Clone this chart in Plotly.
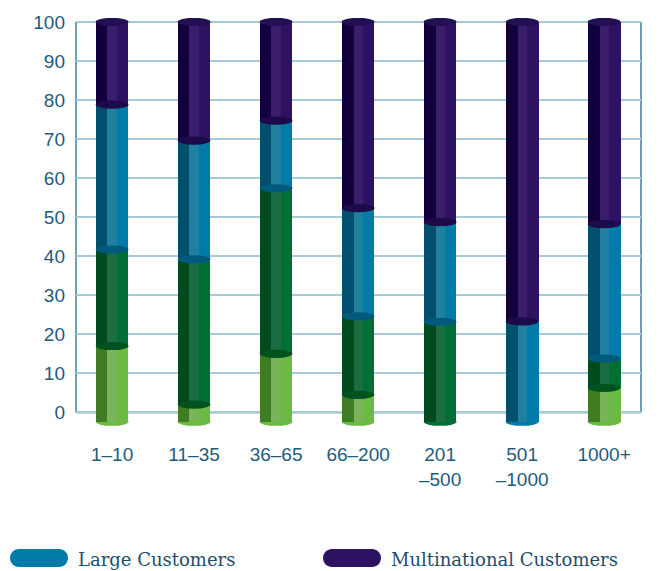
import plotly.graph_objects as go

categories = ["1–10", "11–35", "36–65", "66–200", "201<br>–500", "501<br>–1000", "1000+"]
series_names = ["Small Customers", "Medium Customers", "Large Customers", "Multinational Customers"]
small = [17.0, 2.0, 15.0, 4.5, 0.0, 0.0, 6.3]
medium = [24.7, 37.2, 42.4, 20.1, 23.2, 0.0, 7.5]
large = [37.1, 30.4, 17.3, 27.7, 25.5, 23.3, 34.4]
multinational = [21.2, 30.4, 25.3, 47.7, 51.3, 76.7, 51.8]
y_ticks = [0, 10, 20, 30, 40, 50, 60, 70, 80, 90, 100]
major_grid = [0, 20, 40, 60, 80, 100]

series_values = [small, medium, large, multinational]
base_colors = ["#6cb944", "#006f35", "#007aa6", "#2e1262"]
dark_colors = ["#3f7d24", "#004b1e", "#004f6e", "#12003e"]
high_colors = ["#79b459", "#1c6c43", "#217f9f", "#3b1e6b"]
cap_colors = ["#4f8f30", "#00521f", "#005a7c", "#1d0a4a"]

W = 0.40
FOOT = 2.4      # depth of cylinder base below zero
EH = 1.05       # ellipse half height (data units)
n = len(categories)
xs = list(range(n))

fig = go.Figure()

cum = [0.0] * n
bases = []
for vals in series_values:
    bases.append(cum[:])
    cum = [c + v for c, v in zip(cum, vals)]

bottom_idx = []
for i in range(n):
    for s, vals in enumerate(series_values):
        if vals[i] > 0:
            bottom_idx.append(s)
            break

for s, vals in enumerate(series_values):
    b = []
    h = []
    for i in range(n):
        if vals[i] <= 0:
            b.append(0)
            h.append(0)
        elif bottom_idx[i] == s:
            b.append(bases[s][i] - FOOT)
            h.append(vals[i] + FOOT)
        else:
            b.append(bases[s][i])
            h.append(vals[i])
    for col, off, wd in [
        (base_colors[s], -W / 2, W),
        (dark_colors[s], -W / 2, W * 0.36),
        (high_colors[s], -W / 2 + W * 0.36, W * 0.28),
    ]:
        fig.add_trace(go.Bar(
            x=xs, y=h, base=b, offset=off, width=wd,
            marker=dict(color=col, line=dict(width=0)),
            name=series_names[s], showlegend=False, hoverinfo="skip",
        ))

shapes = []
for g in major_grid:
    shapes.append(dict(type="line", xref="paper", yref="y", x0=0, x1=1, y0=g, y1=g,
                       line=dict(color="#1d6a8c", width=1.5), layer="below"))
for xp in [0, 1]:
    shapes.append(dict(type="line", xref="paper", yref="y", x0=xp, x1=xp, y0=0, y1=100,
                       line=dict(color="#3c7f9c", width=1.5), layer="below"))

for i in range(n):
    s0 = bottom_idx[i]
    shapes.append(dict(type="circle", xref="x", yref="y", x0=i - W / 2, x1=i + W / 2,
                       y0=-FOOT - EH, y1=-FOOT + EH, fillcolor=base_colors[s0],
                       line=dict(width=0), layer="below"))
    for s, vals in enumerate(series_values):
        if vals[i] <= 0:
            continue
        top = bases[s][i] + vals[i]
        upper = None
        for t in range(s + 1, len(series_values)):
            if series_values[t][i] > 0:
                upper = t
                break
        fill = cap_colors[upper] if upper is not None else "#221052"
        shapes.append(dict(type="circle", xref="x", yref="y", x0=i - W / 2, x1=i + W / 2,
                           y0=top - EH, y1=top + EH, fillcolor=fill,
                           line=dict(width=0), layer="above"))

legend_items = [("Large Customers", base_colors[2], 10, 76),
                ("Multinational Customers", base_colors[3], 323, 389)]
pill = "M 9,9 L 49,9 C 54,9 58,5 58,0 C 58,-5 54,-9 49,-9 L 9,-9 C 4,-9 0,-5 0,0 C 0,5 4,9 9,9 Z"
annotations = []
for label, col, px, tx in legend_items:
    shapes.append(dict(type="path", xref="paper", yref="paper", xsizemode="pixel", ysizemode="pixel",
                       xanchor=(px - 76) / 565, yanchor=(428 - 558) / 410, path=pill,
                       fillcolor=col, line=dict(width=0)))
    annotations.append(dict(text=label, xref="paper", yref="paper", x=(tx - 76) / 565,
                            y=(428 - 559) / 410, xanchor="left", yanchor="middle", showarrow=False,
                            font=dict(family="DejaVu Serif", size=18, color="#1f4e6b")))

fig.update_layout(
    width=658, height=571,
    margin=dict(l=76, r=17, t=18, b=143),
    paper_bgcolor="white", plot_bgcolor="white",
    barmode="overlay", bargap=0,
    shapes=shapes, annotations=annotations,
    xaxis=dict(range=[-0.44, 6.45], tickvals=xs, ticktext=categories, showgrid=False,
               zeroline=False, showline=False, ticks="", ticklabelstandoff=13,
               tickfont=dict(family="Liberation Sans", size=19, color="#1d5b7c")),
    yaxis=dict(range=[-4, 101], tickvals=y_ticks, showgrid=True, gridcolor="#a6cad8", gridwidth=1.5,
               zeroline=False, showline=False, ticks="", ticklabelstandoff=10,
               tickfont=dict(family="Liberation Sans", size=19, color="#1d5b7c")),
    font=dict(family="Liberation Sans"),
)

fig.write_html("out.html")
